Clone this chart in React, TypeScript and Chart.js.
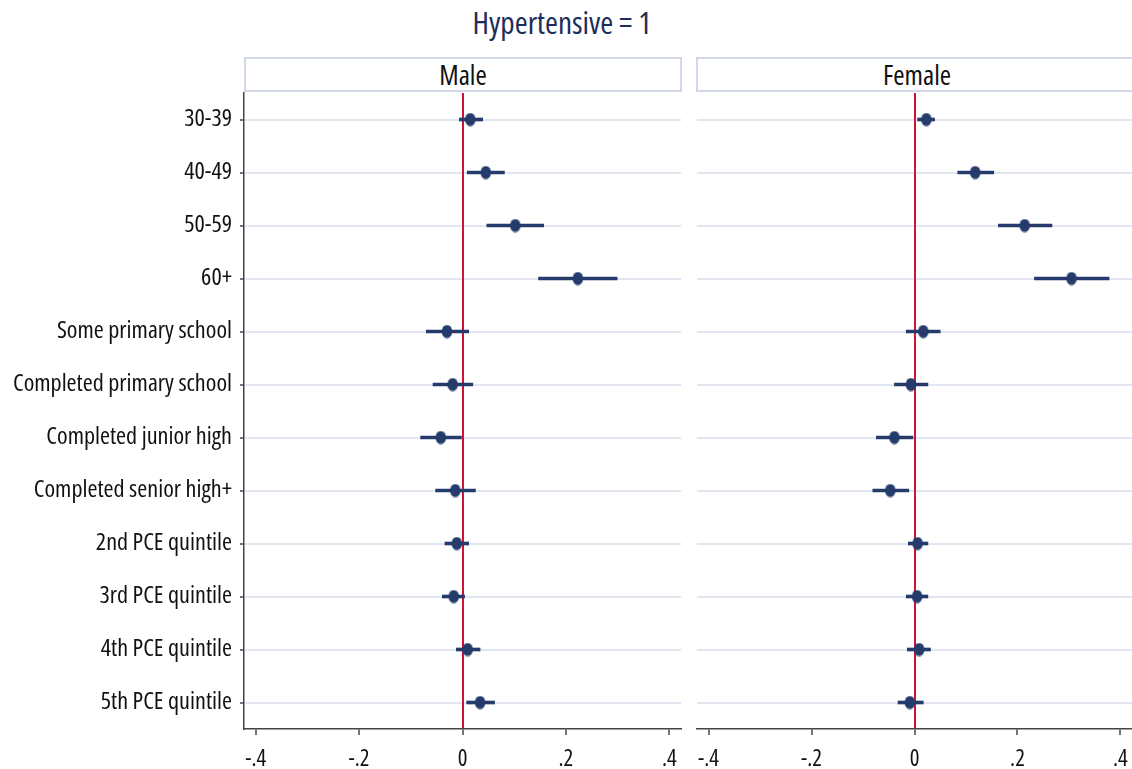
import React, { useEffect, useMemo, useRef } from 'react';
import { Chart, registerables } from 'chart.js';

Chart.register(...registerables);

// ---------- data ----------
const TITLE = 'Hypertensive = 1';
const PANEL_NAMES = ['Male', 'Female'];

const CATEGORIES = [
  '30-39',
  '40-49',
  '50-59',
  '60+',
  'Some primary school',
  'Completed primary school',
  'Completed junior high',
  'Completed senior high+',
  '2nd PCE quintile',
  '3rd PCE quintile',
  '4th PCE quintile',
  '5th PCE quintile',
];

const MALE_EST = [0.015, 0.045, 0.102, 0.223, -0.030, -0.019, -0.042, -0.014, -0.011, -0.017, 0.010, 0.034];
const MALE_LO = [-0.006, 0.009, 0.047, 0.147, -0.070, -0.057, -0.081, -0.052, -0.034, -0.039, -0.012, 0.008];
const MALE_HI = [0.039, 0.081, 0.157, 0.299, 0.012, 0.020, -0.002, 0.025, 0.012, 0.004, 0.034, 0.062];

const FEMALE_EST = [0.023, 0.118, 0.214, 0.305, 0.017, -0.007, -0.039, -0.047, 0.006, 0.005, 0.009, -0.009];
const FEMALE_LO = [0.006, 0.084, 0.163, 0.233, -0.016, -0.039, -0.074, -0.081, -0.012, -0.016, -0.014, -0.032];
const FEMALE_HI = [0.039, 0.154, 0.267, 0.378, 0.050, 0.026, -0.003, -0.011, 0.026, 0.026, 0.031, 0.017];

const X_TICKS = [-0.4, -0.2, 0, 0.2, 0.4];
const X_TICK_LABELS = ['-.4', '-.2', '0', '.2', '.4'];
const X_MIN = -0.4225;
const X_MAX = 0.4225;

// ---------- style ----------
const NAVY = '#243b6b';
const TITLE_COLOR = '#1f2d5a';
const RED = '#cf1237';
const GRID = '#e1e6f0';
const AXIS = '#444444';
const STRIP_BORDER = '#d2d8e7';

const FONT_FAMILY = "'Open Sans', 'Liberation Sans', sans-serif";
const FONT_STRETCH = 'condensed';
const SAMPLE = 'Completed primary school';

function measure(size: number, text: string): number {
  const ctx = document.createElement('canvas').getContext('2d')!;
  ctx.font = `${FONT_STRETCH} ${size}px ${FONT_FAMILY}`;
  return ctx.measureText(text).width;
}

// font size that makes `text` span `target` px
function fitSize(text: string, target: number): number {
  const w = measure(100, text);
  return Math.round((target / w) * 100 * 10) / 10;
}

function makeMarker(): HTMLCanvasElement {
  const c = document.createElement('canvas');
  c.width = 12;
  c.height = 14;
  const ctx = c.getContext('2d')!;
  ctx.fillStyle = NAVY;
  ctx.beginPath();
  ctx.ellipse(6, 7, 5.2, 6.6, 0, 0, Math.PI * 2);
  ctx.fill();
  return c;
}

type PanelProps = {
  est: number[];
  lo: number[];
  hi: number[];
  showY: boolean;
  left: number;
  width: number;
  yWidth: number;
  rightPad: number;
  labelSize: number;
  tickSize: number;
};

function Panel({ est, lo, hi, showY, left, width, yWidth, rightPad, labelSize, tickSize }: PanelProps) {
  const ref = useRef<HTMLCanvasElement | null>(null);

  useEffect(() => {
    if (!ref.current) return;
    const marker = makeMarker();
    const chart = new Chart(ref.current, {
      type: 'bar',
      data: {
        labels: CATEGORIES,
        datasets: [
          {
            type: 'scatter',
            data: CATEGORIES.map((c, i) => ({ x: est[i], y: c })),
            pointStyle: marker as any,
            pointRadius: 6,
            backgroundColor: NAVY,
            borderColor: NAVY,
            order: 0,
          } as any,
          {
            type: 'bar',
            data: CATEGORIES.map((_, i) => [lo[i], hi[i]]),
            backgroundColor: NAVY,
            borderWidth: 0,
            barThickness: 3,
            order: 1,
          } as any,
        ],
      },
      options: {
        indexAxis: 'y',
        animation: false,
        responsive: false,
        maintainAspectRatio: false,
        layout: { autoPadding: false, padding: { top: 1, right: rightPad, left: 0, bottom: 0 } },
        plugins: {
          legend: { display: false },
          tooltip: { enabled: false },
          title: { display: false },
        },
        scales: {
          x: {
            type: 'linear',
            min: X_MIN,
            max: X_MAX,
            afterBuildTicks: (s: any) => {
              s.ticks = X_TICKS.map((v) => ({ value: v }));
            },
            afterFit: (s: any) => {
              s.height = 40;
              s.paddingLeft = 0;
              s.paddingRight = 0;
              s.paddingTop = 0;
              s.paddingBottom = 0;
            },
            ticks: {
              autoSkip: false,
              maxRotation: 0,
              padding: 11,
              color: '#111',
              font: { family: FONT_FAMILY, size: tickSize, weight: FONT_STRETCH },
              callback: (v: any) => {
                const idx = X_TICKS.findIndex((t) => Math.abs(t - Number(v)) < 1e-9);
                return idx >= 0 ? X_TICK_LABELS[idx] : '';
              },
            },
            grid: {
              z: -0.5,
              drawOnChartArea: true,
              color: (ctx: any) => (ctx.tick && Math.abs(ctx.tick.value) < 1e-9 ? RED : 'rgba(0,0,0,0)'),
              lineWidth: 2,
              drawTicks: true,
              tickLength: 6,
              tickColor: AXIS,
              tickWidth: 1.5,
            },
            border: { display: true, color: AXIS, width: 1.5 },
          } as any,
          y: {
            type: 'category',
            offset: true,
            afterFit: (s: any) => {
              s.width = yWidth;
              s.paddingLeft = 0;
              s.paddingRight = 0;
              s.paddingTop = 0;
              s.paddingBottom = 0;
            },
            ticks: {
              display: showY,
              autoSkip: false,
              padding: 8,
              color: '#111',
              font: { family: FONT_FAMILY, size: labelSize, weight: FONT_STRETCH },
            },
            grid: {
              z: -1,
              offset: false,
              color: GRID,
              lineWidth: 2,
              drawTicks: showY,
              tickLength: 4,
              tickColor: AXIS,
              tickWidth: 1.5,
            },
            border: { display: showY, color: AXIS, width: 1.5 },
          } as any,
        },
      } as any,
    });
    return () => chart.destroy();
  }, [est, lo, hi, showY, yWidth, rightPad, labelSize, tickSize]);

  return (
    <canvas
      ref={ref}
      width={width}
      height={677}
      style={{ position: 'absolute', left, top: 92, width, height: 677, display: 'block' }}
    />
  );
}

export default function App() {
  const labelSize = useMemo(() => fitSize(SAMPLE, 219), []);
  const tickSize = useMemo(() => fitSize('-.2', 21), []);
  const titleSize = useMemo(() => fitSize(TITLE, 179), []);
  const stripSize = useMemo(() => fitSize('Female', 68), []);

  const stripStyle: React.CSSProperties = {
    position: 'absolute',
    top: 57,
    height: 35,
    boxSizing: 'border-box',
    border: `2px solid ${STRIP_BORDER}`,
    background: '#ffffff',
    display: 'flex',
    alignItems: 'center',
    justifyContent: 'center',
    fontFamily: FONT_FAMILY,
    fontStretch: FONT_STRETCH as any,
    fontSize: stripSize,
    lineHeight: `${stripSize}px`,
    color: '#111',
  };

  return (
    <div
      style={{
        position: 'fixed',
        left: 0,
        top: 0,
        width: 1132,
        height: 769,
        overflow: 'hidden',
        background: '#ffffff',
      }}
    >
      <div
        style={{
          position: 'absolute',
          left: 0,
          top: 33.7 - titleSize * 0.84,
          width: 1124,
          textAlign: 'center',
          fontFamily: FONT_FAMILY,
          fontStretch: FONT_STRETCH as any,
          fontSize: titleSize,
          lineHeight: `${titleSize}px`,
          color: TITLE_COLOR,
        }}
      >
        {TITLE}
      </div>
      <div style={{ ...stripStyle, left: 244, width: 438 }}>{PANEL_NAMES[0]}</div>
      <div style={{ ...stripStyle, left: 696, width: 442 }}>{PANEL_NAMES[1]}</div>
      <Panel est={MALE_EST} lo={MALE_LO} hi={MALE_HI} showY={true} left={0} width={682} yWidth={244} rightPad={1} labelSize={labelSize} tickSize={tickSize} />
      <Panel est={FEMALE_EST} lo={FEMALE_LO} hi={FEMALE_HI} showY={false} left={690} width={442} yWidth={7} rightPad={0} labelSize={labelSize} tickSize={tickSize} />
    </div>
  );
}
